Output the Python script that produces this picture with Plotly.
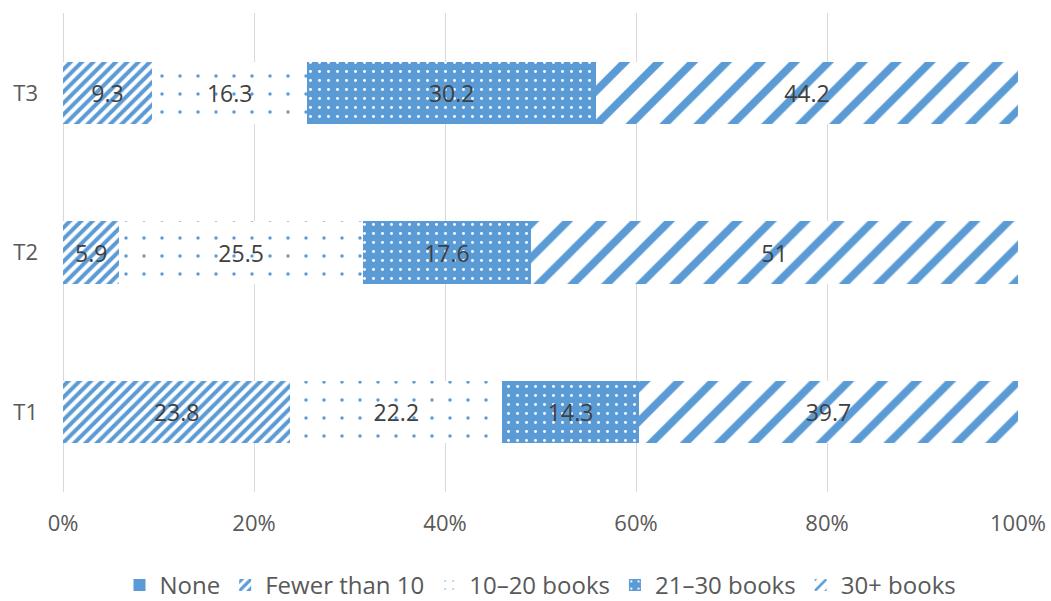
import plotly.graph_objects as go

# Share of pupils by number of books read, per term
terms = ["T1", "T2", "T3"]
series_names = ["None", "Fewer than 10", "10\u201320 books", "21\u201330 books", "30+ books"]
none_vals = [0, 0, 0]
fewer_than_10 = [23.8, 5.9, 9.3]
books_10_20 = [22.2, 25.5, 16.3]
books_21_30 = [14.3, 17.6, 30.2]
books_30_plus = [39.7, 51, 44.2]
x_ticks = [0, 20, 40, 60, 80, 100]

BLUE = "#5B9BD5"
WHITE = "#FFFFFF"
FONT = "Open Sans"

# pattern per series: (shape, size, solidity, foreground, background)
patterns = [
    ("", 8, 0.3, BLUE, WHITE),
    ("/", 8, 0.5, BLUE, WHITE),
    (".", 18, 0.028, BLUE, WHITE),
    (".", 9, 0.08, WHITE, BLUE),
    ("/", 24, 0.32, BLUE, WHITE),
]
values = [none_vals, fewer_than_10, books_10_20, books_21_30, books_30_plus]

fig = go.Figure()
for name, vals, (shape, size, sol, fg, bg) in zip(series_names, values, patterns):
    marker = dict(color=BLUE, line=dict(width=0))
    if shape:
        marker["pattern"] = dict(shape=shape, size=size, solidity=sol,
                                 fgcolor=fg, bgcolor=bg, fillmode="replace")
    fig.add_trace(go.Bar(
        name=name,
        y=terms,
        x=vals,
        orientation="h",
        width=0.39,
        marker=marker,
        texttemplate="" if name == "None" else "%{x}",
        textposition="inside",
        insidetextanchor="middle",
        textangle=0,
        constraintext="none",
        insidetextfont=dict(family=FONT, size=23, color="#404040"),
        hoverinfo="skip",
    ))

fig.update_layout(
    barmode="stack",
    width=1051,
    height=601,
    margin=dict(l=63, r=33, t=13, b=109, autoexpand=False),
    paper_bgcolor=WHITE,
    plot_bgcolor=WHITE,
    font=dict(family=FONT, color="#595959", size=22),
    showlegend=True,
    legend=dict(
        orientation="h",
        x=0.5, xanchor="center",
        y=-0.195, yanchor="middle",
        font=dict(family=FONT, size=24, color="#595959"),
        itemwidth=30,
        traceorder="normal",
    ),
    xaxis=dict(
        range=[0, 100],
        tickvals=x_ticks,
        ticktext=[f"{v}%" for v in x_ticks],
        showgrid=True,
        gridcolor="#D9D9D9",
        gridwidth=1,
        zeroline=True,
        zerolinecolor="#D9D9D9",
        zerolinewidth=1,
        showline=False,
        ticks="",
        ticklabelstandoff=16,
        automargin=False,
        tickfont=dict(family=FONT, size=22, color="#595959"),
        fixedrange=True,
    ),
    yaxis=dict(
        showgrid=False,
        zeroline=False,
        showline=False,
        ticks="",
        ticklabelstandoff=24,
        automargin=False,
        tickfont=dict(family=FONT, size=22, color="#595959"),
        fixedrange=True,
    ),
)

fig.write_html("out.html")
